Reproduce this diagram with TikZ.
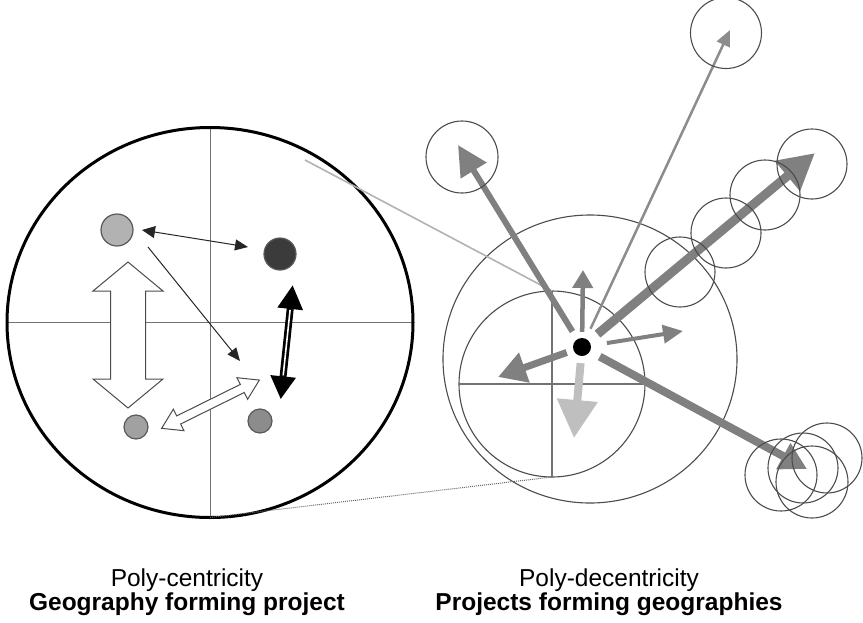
\documentclass[tikz,border=0pt]{standalone}
\usepackage{fontspec}
\setmainfont{Liberation Sans}
\usetikzlibrary{arrows.meta,shapes.geometric}
\pgfdeclarelayer{bg}
\pgfsetlayers{bg,main}
\begin{document}
\begin{tikzpicture}[x=1pt,y=-1pt,
  ring/.style={circle, draw=black!70, line width=1.1pt, inner sep=0pt, minimum size=70pt},
  dotc/.style={circle, draw=black!65, line width=1.2pt, inner sep=0pt},
  garrow/.style={color=black!50},
  cross/.style={draw=black!55, line width=1pt},
  thinarr/.style={color=black!85, line width=1pt},
  hollow/.style={fill=white, draw=black!70, line width=1pt, line join=miter},
  lbl/.style={font=\fontsize{24.5}{28}\selectfont, anchor=base, inner sep=0pt}]
\useasboundingbox (0,0) rectangle (863,622);

% ---------- left: poly-centricity ----------
\node[ellipse, draw=black, line width=3pt, minimum width=406pt, minimum height=390pt,
      inner sep=0pt, outer sep=0pt] (L) at (210,322.5) {};
\begin{pgfonlayer}{bg}
  \draw[cross] (L.west) -- (L.east);
  \draw[cross] (L.north) -- (L.south);
\end{pgfonlayer}

\node[dotc, fill=black!30, minimum size=32pt] (c1) at (117,230) {};
\node[dotc, fill=black!77, minimum size=32pt] (c2) at (280,254) {};
\node[dotc, fill=black!37, minimum size=24pt] (c3) at (136,427) {};
\node[dotc, fill=black!45, minimum size=24pt] (c4) at (260,421) {};

\coordinate (a1) at (142,230);
\coordinate (a2) at (248,247);
\coordinate (b1) at (148,247);
\coordinate (b2) at (240,361);
\draw[thinarr, {Triangle[length=13pt,width=12pt]}-{Triangle[length=13pt,width=11pt]}] (a1) -- (a2);
\draw[thinarr, -{Triangle[length=13pt,width=11pt]}] (b1) -- (b2);

% hollow vertical double arrow
\draw[hollow] (128,262) -- (163,291) -- (145.5,291) -- (145.5,379) -- (163,379)
  -- (128,408) -- (93,379) -- (110.5,379) -- (110.5,291) -- (93,291) -- cycle;

% hollow diagonal double arrow
\begin{scope}[shift={(210.5,404.2)}, rotate=26.3]
  \draw[hollow] (54.5,0) -- (35.5,12) -- (35.5,4.5) -- (-35.5,4.5) -- (-35.5,12)
    -- (-54.5,0) -- (-35.5,-12) -- (-35.5,-4.5) -- (35.5,-4.5) -- (35.5,-12) -- cycle;
\end{scope}

% black double arrow
\coordinate (kb) at (280.7,399.3);
\coordinate (kt) at (292.7,285);
\draw[black, line width=7pt, {Triangle[length=23pt,width=24pt]}-{Triangle[length=24pt,width=24pt]}] (kb) -- (kt);
\draw[white, line width=1.6pt, shorten <=24pt, shorten >=25pt] (kb) -- (kt);

% ---------- right: poly-decentricity ----------
\node[ellipse, draw=black!70, line width=1.1pt, minimum width=294pt, minimum height=288pt,
      inner sep=0pt] (O) at (590,359) {};
\node[circle, draw=black!70, line width=1.1pt, minimum size=186pt, inner sep=0pt,
      outer sep=0pt] (R) at (552,384) {};
\draw[cross, line width=1.2pt] (R.west) -- (R.east);
\draw[cross, line width=1.2pt] (R.north) -- (R.south);

% zoom connectors
\coordinate (Lt) at (305,160);
\draw[black!30, line width=1.6pt] (Lt) -- (R.north);
\draw[black!60, line width=1pt, dash pattern=on 1pt off 1pt] (L.south) -- (R.south);

\node[circle, fill=black, minimum size=18pt, inner sep=0pt] (D) at (582,347) {};

\coordinate (tNW) at (458,145);
\coordinate (tN)  at (583,270);
\coordinate (tT)  at (730,30);
\coordinate (tNE) at (815,153);
\coordinate (tE)  at (683,331);
\coordinate (tW)  at (498,377);
\coordinate (tS)  at (574,438);
\coordinate (tSE) at (807,469);

\draw[garrow, line width=6pt, shorten <=9pt, -{Triangle[length=30pt,width=29pt]}] (D) -- (tNW);
\draw[garrow, line width=4.5pt, shorten <=6pt, -{Triangle[length=18pt,width=20pt]}] (D) -- (tN);
\draw[color=black!45, line width=2.5pt, shorten <=11pt, -{Triangle[length=16pt,width=14pt]}] (D) -- (tT);
\draw[garrow, line width=9pt, shorten <=11pt, -{Triangle[length=36pt,width=37pt]}] (D) -- (tNE);
\draw[garrow, line width=4pt, shorten <=16pt, -{Triangle[length=20pt,width=18pt]}] (D) -- (tE);
\draw[garrow, line width=7pt, shorten <=7pt, -{Triangle[length=28pt,width=30pt]}] (D) -- (tW);
\draw[color=black!25, line width=8pt, shorten <=7pt, -{Triangle[length=38pt,width=39pt]}] (D) -- (tS);
\draw[garrow, line width=8pt, shorten <=11pt, -{Triangle[length=27pt,width=28pt]}] (D) -- (tSE);

% outline circles
\node[ring, minimum size=72pt] (TL) at (462,157) {};
\node[ring, minimum size=71pt] (T)  at (726,33) {};
\node[ring] (C1) at (680,272) {};
\node[ring] (C2) at (726,233) {};
\node[ring] (C3) at (765,195) {};
\node[ring] (C4) at (812,164) {};
\node[ring, minimum size=72pt] (K1) at (781,475) {};
\node[ring] (K2) at (803,468) {};
\node[ring] (K3) at (827,458) {};
\node[ring, minimum size=72pt] (K4) at (812,482) {};

% ---------- captions ----------
\node[lbl] (l1) at (187,586) {Poly-centricity};
\node[lbl, font=\fontsize{24.5}{28}\selectfont\bfseries] (l2) at (187,610) {Geography forming project};
\node[lbl] (r1) at (609,586) {Poly-decentricity};
\node[lbl, font=\fontsize{24.5}{28}\selectfont\bfseries] (r2) at (609,610) {Projects forming geographies};
\end{tikzpicture}
\end{document}
